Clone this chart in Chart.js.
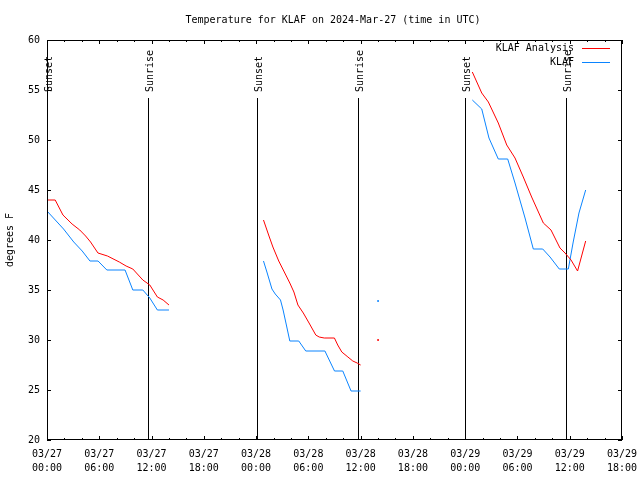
<!DOCTYPE html>
<html>
<head>
<meta charset="utf-8">
<script src="https://cdn.jsdelivr.net/npm/chart.js@4.4.1/dist/chart.umd.min.js"></script>
<style>
  body { margin: 0; background: #fff; }
  canvas { display: block; }
</style>
</head>
<body>
<canvas id="chart" width="640" height="480"></canvas>
<script>
// hours since 03/27 00:00 UTC, null temp = gap in the record
const analysisHours = [0, 0.94, 1.83, 2.88, 3.76, 4.43, 5.0, 5.85, 6.94, 8.3, 9.08, 9.85, 11.0, 11.8, 12.67, 13.33, 14.0,
  20,
  24.85, 25.44, 25.93, 26.6, 27.18, 27.87, 28.34, 28.8, 29.42, 30.08, 30.85, 31.24, 31.82, 32.99, 33.37, 33.84, 34.54, 35.1, 35.6, 36.0,
  37, 38.0, 39,
  48.82, 49.9, 50.66, 51.8, 52.77, 53.72, 54.67, 55.63, 56.97, 57.85, 58.88, 59.46, 60.15, 60.9, 61.83];
const analysisTemps = [44.0, 44.0, 42.5, 41.6, 41.0, 40.4, 39.8, 38.7, 38.4, 37.8, 37.4, 37.1, 36.0, 35.5, 34.3, 34.0, 33.5,
  null,
  42.0, 40.5, 39.3, 37.9, 36.9, 35.7, 34.8, 33.5, 32.7, 31.7, 30.5, 30.3, 30.2, 30.2, 29.5, 28.8, 28.3, 27.9, 27.7, 27.5,
  null, 30.0, null,
  56.8, 54.7, 53.8, 51.7, 49.5, 48.2, 46.3, 44.3, 41.7, 41.0, 39.2, 38.7, 38.0, 36.9, 39.9];

const obsHours = [0, 1.9, 3.07, 4.04, 4.93, 5.86, 6.87, 8.96, 9.85, 11.0, 11.8, 12.67, 14.0,
  20,
  24.85, 25.24, 25.82, 26.2, 26.8, 27.1, 27.5, 27.87, 28.9, 29.7, 31.9, 33.0, 33.95, 34.9, 36.0,
  37, 38.0, 39,
  48.82, 49.9, 50.73, 51.8, 52.88, 53.72, 54.87, 55.82, 56.9, 57.74, 58.8, 59.84, 60.4, 61.06, 61.83];
const obsTemps = [42.9, 41.1, 39.8, 38.9, 37.9, 37.9, 37.0, 37.0, 35.0, 35.0, 34.2, 33.0, 33.0,
  null,
  37.9, 36.8, 35.1, 34.6, 34.0, 33.0, 31.4, 29.9, 29.9, 28.9, 28.9, 26.9, 26.9, 24.9, 24.9,
  null, 33.9, null,
  54.0, 53.1, 50.2, 48.1, 48.1, 45.7, 42.2, 39.1, 39.1, 38.3, 37.1, 37.1, 39.8, 42.7, 45.0];

const sunsetHours = [0, 24.05, 48.0];
const sunriseHours = [11.65, 35.7, 59.6];

const xTickDates = ['03/27', '03/27', '03/27', '03/27', '03/28', '03/28', '03/28', '03/28', '03/29', '03/29', '03/29', '03/29'];
const xTickTimes = ['00:00', '06:00', '12:00', '18:00', '00:00', '06:00', '12:00', '18:00', '00:00', '06:00', '12:00', '18:00'];

const titleText = 'Temperature for KLAF on 2024-Mar-27 (time in UTC)';
const FONT = '"DejaVu Sans Mono", monospace';

function toPoints(hours, temps) {
  return hours.map((h, i) => ({ x: h, y: temps[i] }));
}

function isolatedRadius(temps) {
  return ctx => {
    const i = ctx.dataIndex;
    if (temps[i] === null) return 0;
    const prev = i > 0 ? temps[i - 1] : null;
    const next = i < temps.length - 1 ? temps[i + 1] : null;
    return (prev === null && next === null) ? 1 : 0;
  };
}

const gnuplotFrame = {
  id: 'gnuplotFrame',
  beforeDatasetsDraw(chart) {
    const { ctx, chartArea: a, scales: { x } } = chart;
    ctx.save();
    ctx.strokeStyle = '#000';
    ctx.fillStyle = '#000';
    ctx.lineWidth = 1;
    ctx.font = '10px ' + FONT;
    const marks = [];
    sunsetHours.forEach(h => marks.push([h, 'Sunset']));
    sunriseHours.forEach(h => marks.push([h, 'Sunrise']));
    marks.forEach(([h, label]) => {
      const px = Math.round(x.getPixelForValue(h)) + 0.5;
      ctx.beginPath();
      ctx.moveTo(px, a.bottom);
      ctx.lineTo(px, 98);
      ctx.stroke();
      ctx.save();
      ctx.translate(px + 1.5, 92);
      ctx.rotate(-Math.PI / 2);
      ctx.textAlign = 'left';
      ctx.textBaseline = 'middle';
      ctx.fillText(label, 0, 0);
      ctx.restore();
    });
    ctx.restore();
  },
  afterDraw(chart) {
    const { ctx, chartArea: a, scales: { x, y } } = chart;
    ctx.save();
    ctx.strokeStyle = '#000';
    ctx.lineWidth = 1;
    ctx.strokeRect(a.left + 0.5, a.top + 0.5, a.right - a.left - 1, a.bottom - a.top - 1);
    ctx.beginPath();
    for (let h = 0; h <= 66; h += 2) {
      const px = Math.round(x.getPixelForValue(h)) + 0.5;
      const len = h % 6 === 0 ? 4 : 2;
      ctx.moveTo(px, a.bottom); ctx.lineTo(px, a.bottom - len);
      ctx.moveTo(px, a.top); ctx.lineTo(px, a.top + len);
    }
    for (let t = 20; t <= 60; t += 5) {
      const py = Math.round(y.getPixelForValue(t)) + 0.5;
      ctx.moveTo(a.left, py); ctx.lineTo(a.left + 4, py);
      ctx.moveTo(a.right, py); ctx.lineTo(a.right - 4, py);
    }
    ctx.stroke();

    ctx.fillStyle = '#000';
    ctx.font = '10px ' + FONT;
    ctx.textAlign = 'center';
    ctx.textBaseline = 'middle';
    ctx.fillText(titleText, 333, 20);

    // key, top right inside the frame
    ctx.textAlign = 'right';
    chart.data.datasets.forEach((ds, i) => {
      const ly = 48 + i * 14;
      ctx.fillStyle = '#000';
      ctx.fillText(ds.label, 574, ly);
      ctx.strokeStyle = ds.borderColor;
      ctx.beginPath();
      ctx.moveTo(582, ly + 0.5);
      ctx.lineTo(610, ly + 0.5);
      ctx.stroke();
    });
    ctx.restore();
  }
};

new Chart(document.getElementById('chart'), {
  type: 'line',
  data: {
    datasets: [{
      label: 'KLAF Analysis',
      data: toPoints(analysisHours, analysisTemps),
      borderColor: '#ff0000',
      backgroundColor: '#ff0000',
      borderWidth: 1,
      pointRadius: isolatedRadius(analysisTemps),
      pointBorderWidth: 0,
      tension: 0,
      fill: false
    }, {
      label: 'KLAF',
      data: toPoints(obsHours, obsTemps),
      borderColor: '#0a84ff',
      backgroundColor: '#0a84ff',
      borderWidth: 1,
      pointRadius: isolatedRadius(obsTemps),
      pointBorderWidth: 0,
      tension: 0,
      fill: false
    }]
  },
  options: {
    responsive: false,
    animation: false,
    layout: { padding: { left: 0, right: 18, top: 40, bottom: 0 } },
    plugins: {
      legend: { display: false },
      title: { display: false },
      tooltip: { enabled: false }
    },
    scales: {
      x: {
        type: 'linear',
        min: 0,
        max: 66,
        grid: { display: false, drawTicks: false },
        border: { display: false },
        ticks: {
          stepSize: 6,
          padding: 7,
          maxRotation: 0,
          autoSkip: false,
          color: '#000',
          font: { family: FONT, size: 10, lineHeight: 1.4 },
          callback: (v, i) => [xTickDates[i], xTickTimes[i]]
        },
        afterFit: s => { s.height = 40; s.paddingLeft = 0; s.paddingRight = 0; }
      },
      y: {
        min: 20,
        max: 60,
        grid: { display: false, drawTicks: false },
        border: { display: false },
        ticks: {
          stepSize: 5,
          padding: 7,
          color: '#000',
          font: { family: FONT, size: 10 }
        },
        title: {
          display: true,
          text: 'degrees F',
          color: '#000',
          padding: { top: 4, bottom: 0 },
          font: { family: FONT, size: 10 }
        },
        afterFit: s => { s.width = 47; s.paddingTop = 0; s.paddingBottom = 0; }
      }
    }
  },
  plugins: [gnuplotFrame]
});
</script>
</body>
</html>
